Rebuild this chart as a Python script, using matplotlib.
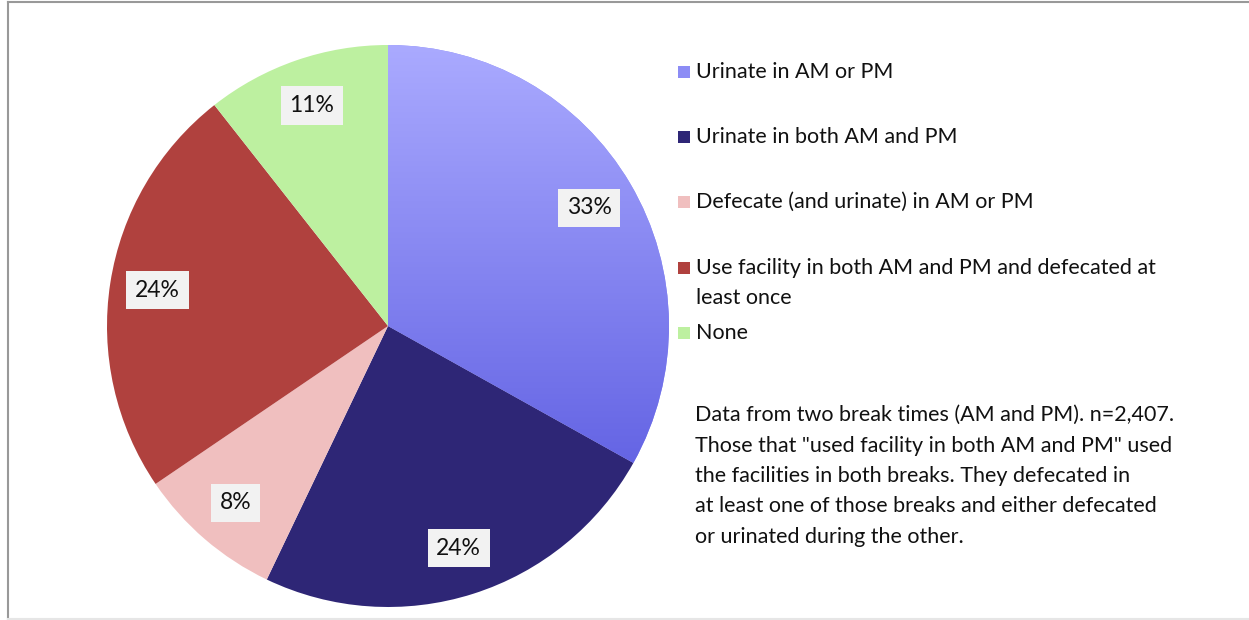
import matplotlib
matplotlib.use("Agg")
import matplotlib.pyplot as plt
import numpy as np
from matplotlib.colors import LinearSegmentedColormap
from matplotlib.patches import Rectangle
from matplotlib.lines import Line2D

plt.rcParams['font.family'] = ['Lato', 'DejaVu Sans']

categories = ["Urinate in AM or PM",
              "Urinate in both AM and PM",
              "Defecate (and urinate) in AM or PM",
              "Use facility in both AM and PM and defecated at\nleast once",
              "None"]
values = [33.1, 24.0, 8.4, 23.9, 10.6]
pct_labels = ["33%", "24%", "8%", "24%", "11%"]
colors = ["#8c8cf5", "#2e2676", "#f0bfbf", "#b0413e", "#bdf0a0"]
note = ("Data from two break times (AM and PM). n=2,407.\n"
        "Those that \"used facility in both AM and PM\" used\n"
        "the facilities in both breaks. They defecated in\n"
        "at least one of those breaks and either defecated\n"
        "or urinated during the other.")

W, H = 1249, 620
fig = plt.figure(figsize=(W / 100, H / 100), dpi=100)
fig.patch.set_facecolor("white")

cx, cy, r = 388, 326, 281
ax = fig.add_axes([(cx - r) / W, (H - cy - r) / H, 2 * r / W, 2 * r / H])
wedges, texts = ax.pie(values, colors=colors, startangle=90, counterclock=False,
                       radius=1, wedgeprops=dict(linewidth=0))
ax.set_aspect("equal")
ax.axis("off")

# gradient for the first wedge
cmap = LinearSegmentedColormap.from_list("g", ["#6464e4", "#aaaaff"])
grad = np.linspace(0, 1, 256).reshape(-1, 1)
grad = np.clip((grad * 2 - 0.5) / 1.5, 0, 1)
img = ax.imshow(grad, cmap=cmap, extent=(-1, 1, -1, 1), origin="lower",
                aspect="auto", zorder=wedges[0].get_zorder() + 0.1)
img.set_clip_path(wedges[0])
ax.set_xlim(-1, 1)
ax.set_ylim(-1, 1)

FS = 15.5
LS = 1.65

# percentage labels
cum = np.cumsum([0] + values)
total = sum(values)
for i, lab in enumerate(pct_labels):
    mid = 90 - 360 * (cum[i] + values[i] / 2) / total
    d = 0.83
    x, y = d * np.cos(np.radians(mid)), d * np.sin(np.radians(mid))
    ax.text(x, y, lab, ha="center", va="center", fontsize=16.5, color="#111111",
            zorder=10,
            bbox=dict(boxstyle="square,pad=0.38", facecolor="#f2f2f2", edgecolor="none"))

# legend
leg_y = [72, 137, 202, 268, 333]
for i, (cat, col) in enumerate(zip(categories, colors)):
    yy = leg_y[i]
    fig.patches.append(Rectangle((678 / W, (H - yy - 6) / H), 12 / W, 12 / H,
                                 transform=fig.transFigure, facecolor=col,
                                 edgecolor="none"))
    if "\n" in cat:
        fig.text(696 / W, (H - yy - 15) / H, cat, ha="left", va="center",
                 fontsize=FS, color="#111111", linespacing=LS)
    else:
        fig.text(696 / W, (H - yy) / H, cat, ha="left", va="center",
                 fontsize=FS, color="#111111")

fig.text(695 / W, (H - 476) / H, note, ha="left", va="center", fontsize=FS,
         color="#111111", linespacing=LS)

# frame
fig.add_artist(Line2D([8 / W, 8 / W], [0, (H - 2) / H], color="#999999", lw=1.5,
                      transform=fig.transFigure))
fig.add_artist(Line2D([8 / W, 1], [(H - 2) / H, (H - 2) / H], color="#999999", lw=1.5,
                      transform=fig.transFigure))
fig.add_artist(Line2D([8 / W, 1], [1.5 / H, 1.5 / H], color="#e6e6e6", lw=1.5,
                      transform=fig.transFigure))

fig.savefig("out.png", dpi=100, facecolor="white")
